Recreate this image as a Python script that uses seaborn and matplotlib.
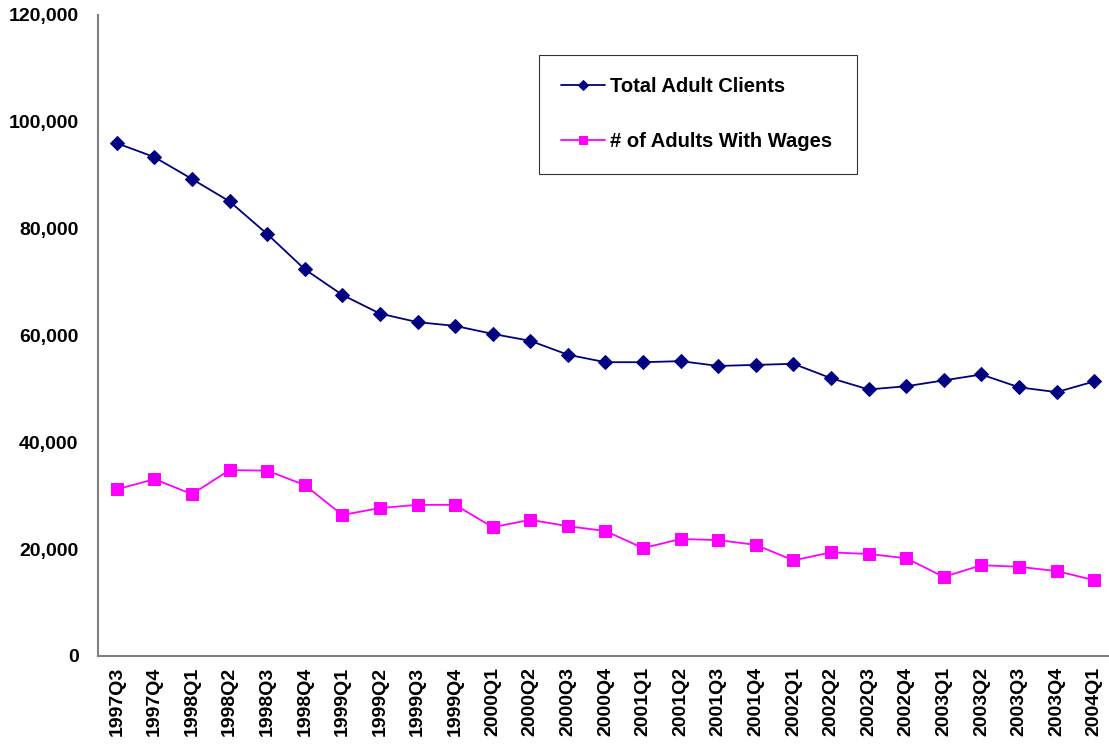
import numpy as np
import pandas as pd
import seaborn as sns
import matplotlib.pyplot as plt
from matplotlib.ticker import FuncFormatter, FixedLocator

quarters = ['1997Q3', '1997Q4', '1998Q1', '1998Q2', '1998Q3', '1998Q4',
            '1999Q1', '1999Q2', '1999Q3', '1999Q4', '2000Q1', '2000Q2',
            '2000Q3', '2000Q4', '2001Q1', '2001Q2', '2001Q3', '2001Q4',
            '2002Q1', '2002Q2', '2002Q3', '2002Q4', '2003Q1', '2003Q2',
            '2003Q3', '2003Q4', '2004Q1']

total_adults = [96000, 93400, 89300, 85100, 79000, 72400, 67600, 64100, 62500,
                61800, 60300, 59000, 56400, 55000, 55000, 55200, 54300, 54500,
                54700, 52000, 49900, 50500, 51600, 52700, 50300, 49400, 51400]

adults_wages = [31200, 33100, 30300, 34800, 34700, 32000, 26400, 27700, 28300,
                28300, 24100, 25500, 24300, 23400, 20200, 21900, 21700, 20800,
                17900, 19400, 19100, 18300, 14800, 17000, 16700, 15900, 14200]

sns.set_style('white')
plt.rcParams['font.family'] = ['Liberation Sans', 'DejaVu Sans']
plt.rcParams['font.weight'] = 'bold'
plt.rcParams['text.color'] = 'black'
plt.rcParams['xtick.color'] = 'black'
plt.rcParams['ytick.color'] = 'black'

df = pd.DataFrame({'pos': np.arange(len(quarters)),
                   'total': total_adults, 'wages': adults_wages})

fig = plt.figure(figsize=(11.09, 7.47), dpi=100)
ax = fig.add_axes([98 / 1109, 91 / 747, 1015 / 1109, 641 / 747])

sns.lineplot(data=df, x='pos', y='total', ax=ax, color='#000080', marker='D',
             markersize=7, markeredgecolor='#000080', linewidth=1.3,
             label='Total Adult Clients')
sns.lineplot(data=df, x='pos', y='wages', ax=ax, color='#FF00FF', marker='s',
             markersize=8, markeredgecolor='#FF00FF', linewidth=1.3,
             label='# of Adults With Wages')

ax.set_xlim(-0.5, len(quarters) - 0.5)
ax.set_ylim(0, 120000)
ax.set_yticks(np.arange(0, 120001, 20000))
ax.yaxis.set_major_formatter(FuncFormatter(lambda v, p: f'{int(v):,}'))

# category labels centred, tick marks at the boundaries
ax.xaxis.set_major_locator(FixedLocator(np.arange(len(quarters) + 1) - 0.5))
ax.xaxis.set_minor_locator(FixedLocator(np.arange(len(quarters))))
ax.set_xticklabels([''] * (len(quarters) + 1))
ax.set_xticklabels(quarters, minor=True, rotation=90, fontsize=14, fontweight='bold')
ax.tick_params(axis='x', which='major', length=6, color='#808080', width=1.2, direction='out')
ax.tick_params(axis='x', which='minor', length=0, pad=8)
ax.tick_params(axis='y', length=6, color='#808080', width=1.2, direction='out', labelsize=14, pad=8)
for lab in ax.get_yticklabels():
    lab.set_fontweight('bold')

ax.set_xlabel('')
ax.set_ylabel('')
sns.despine(ax=ax)
for side in ['left', 'bottom']:
    ax.spines[side].set_color('#808080')
    ax.spines[side].set_linewidth(1.5)

leg = ax.legend(loc='upper left', bbox_to_anchor=(0.4345, 0.750, 0.3135, 0.1876),
                mode='expand', frameon=True, fancybox=False, borderaxespad=0,
                prop={'size': 14.5, 'weight': 'bold'}, handlelength=2.2,
                markerscale=0.8, handletextpad=0.2, labelspacing=1.8, borderpad=1.1)
leg.get_frame().set_edgecolor('black')
leg.get_frame().set_linewidth(0.8)
leg._legend_box.set_offset  # keep default layout

plt.savefig('out.png', dpi=100)
